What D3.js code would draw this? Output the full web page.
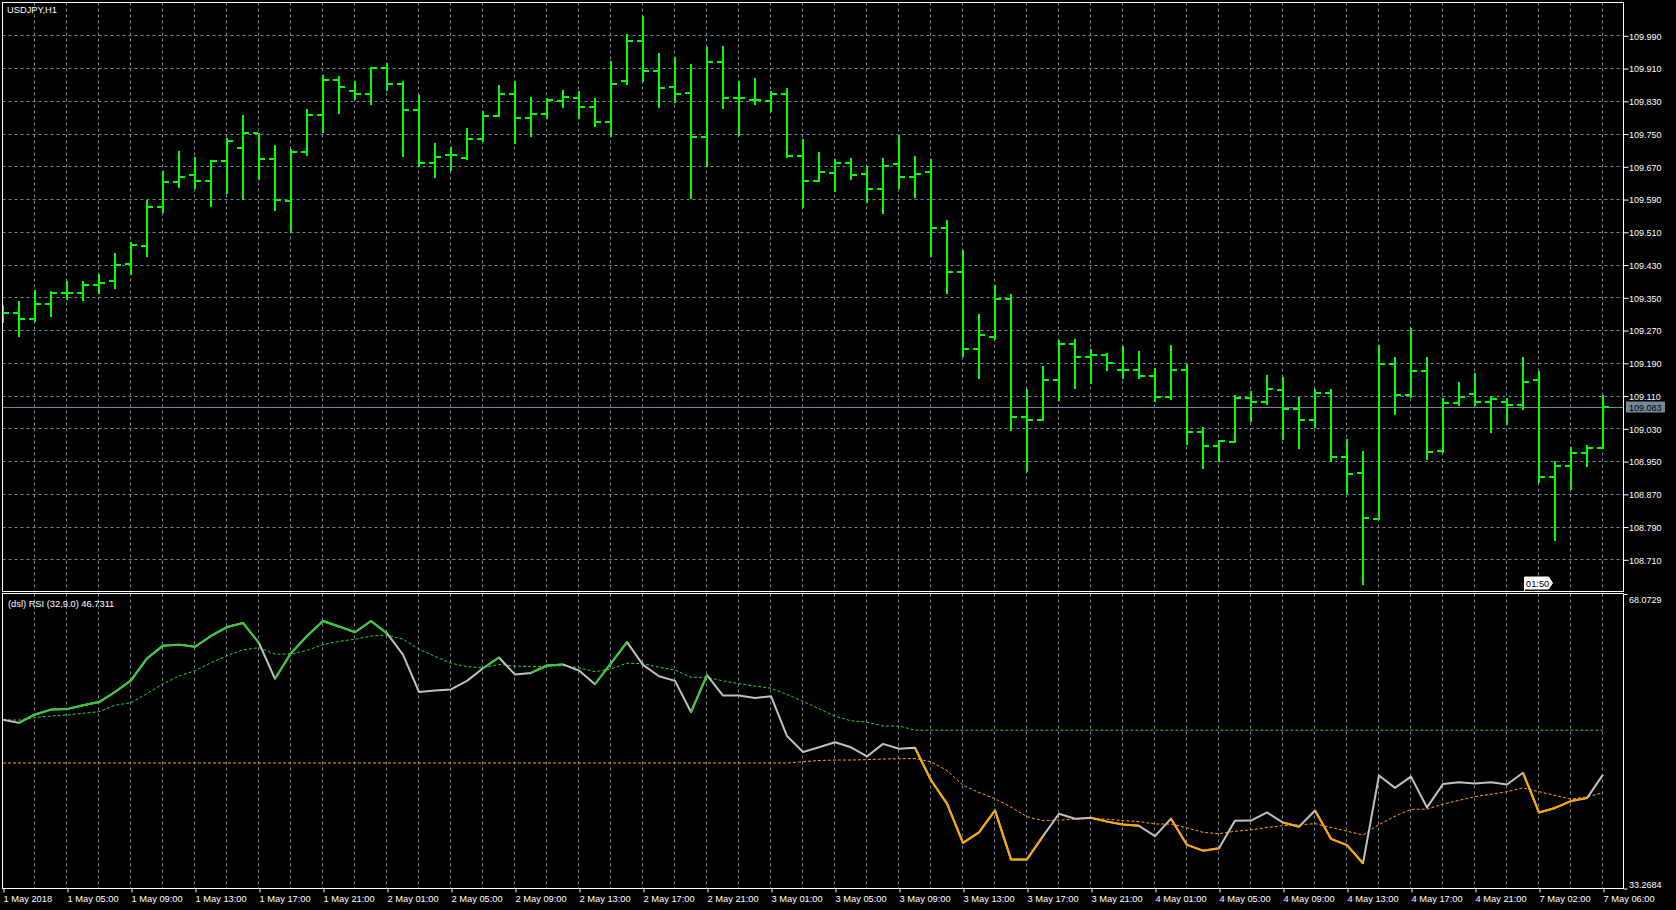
<!DOCTYPE html>
<html><head><meta charset="utf-8">
<script src="https://cdn.jsdelivr.net/npm/d3@7"></script>
<style>
html,body{margin:0;padding:0;background:#000;overflow:hidden;}
svg{display:block;}
text{font-family:"Liberation Sans",Arial,sans-serif;font-size:9.3px;fill:#fff;}
</style></head><body>
<svg id="c" width="1676" height="910"></svg>
<script>
// ---------------- data ----------------
const symbolTitle = "USDJPY,H1";
const rsiTitle = "(dsl) RSI (32,9.0) 46.7311";
const timerLabel = "01:50";
const currentPrice = 109.083;

const timeLabels = ["1 May 2018","1 May 05:00","1 May 09:00","1 May 13:00","1 May 17:00","1 May 21:00",
  "2 May 01:00","2 May 05:00","2 May 09:00","2 May 13:00","2 May 17:00","2 May 21:00",
  "3 May 01:00","3 May 05:00","3 May 09:00","3 May 13:00","3 May 17:00","3 May 21:00",
  "4 May 01:00","4 May 05:00","4 May 09:00","4 May 13:00","4 May 17:00","4 May 21:00",
  "7 May 02:00","7 May 06:00"];
const timeLabelBars = [0,4,8,12,16,20,24,28,32,36,40,44,48,52,56,60,64,68,72,76,80,84,88,92,96,100];

const priceTicks = [108.710,108.790,108.870,108.950,109.030,109.110,109.190,109.270,109.350,109.430,
  109.510,109.590,109.670,109.750,109.830,109.910,109.990];
const rsiTicks = [33.2684, 68.0729];

const opens = [109.320,109.312,109.296,109.334,109.360,109.360,109.379,109.389,109.432,109.475,
  109.571,109.632,109.648,109.635,109.683,109.714,109.751,109.689,109.585,109.704,
  109.795,109.882,109.853,109.846,109.911,109.872,109.807,109.679,109.697,109.690,
  109.736,109.794,109.846,109.789,109.797,109.829,109.836,109.814,109.779,109.878,
  109.976,109.903,109.864,109.849,109.742,109.924,109.836,109.833,109.829,109.846,
  109.695,109.635,109.653,109.679,109.651,109.615,109.675,109.645,109.656,109.520,
  109.413,109.223,109.254,109.346,109.057,109.051,109.148,109.236,109.203,109.209,
  109.172,109.173,109.157,109.107,109.173,109.021,108.987,108.997,109.103,109.095,
  109.124,109.076,109.051,109.116,108.959,108.921,108.808,109.186,109.112,109.169,
  108.974,109.093,109.115,109.095,109.095,109.086,109.148,108.911,108.938,108.970,
  108.983];
const highs = [109.330,109.340,109.368,109.365,109.391,109.391,109.408,109.458,109.484,109.588,
  109.659,109.708,109.692,109.685,109.740,109.796,109.751,109.723,109.713,109.809,
  109.892,109.890,109.879,109.912,109.922,109.878,109.844,109.726,109.718,109.763,
  109.804,109.868,109.879,109.840,109.838,109.857,109.854,109.838,109.928,109.993,
  110.037,109.947,109.936,109.921,109.962,109.965,109.878,109.885,109.854,109.861,
  109.736,109.704,109.688,109.690,109.670,109.690,109.747,109.695,109.688,109.538,
  109.465,109.308,109.381,109.359,109.127,109.181,109.245,109.249,109.224,109.215,
  109.231,109.219,109.177,109.234,109.187,109.033,109.002,109.112,109.122,109.159,
  109.155,109.106,109.125,109.127,109.003,108.974,109.233,109.204,109.275,109.204,
  109.104,109.143,109.164,109.109,109.104,109.204,109.169,108.950,108.985,108.989,
  109.112];
const lows = [109.290,109.255,109.291,109.304,109.347,109.344,109.360,109.372,109.406,109.452,
  109.559,109.619,109.616,109.573,109.606,109.590,109.640,109.564,109.510,109.698,
  109.753,109.801,109.835,109.823,109.856,109.695,109.670,109.645,109.660,109.688,
  109.733,109.792,109.726,109.743,109.789,109.815,109.788,109.768,109.743,109.871,
  109.879,109.815,109.826,109.593,109.670,109.813,109.747,109.822,109.804,109.692,
  109.570,109.635,109.610,109.639,109.582,109.555,109.617,109.595,109.452,109.360,
  109.206,109.154,109.249,109.027,108.925,109.051,109.100,109.128,109.140,109.172,
  109.154,109.154,109.097,109.101,108.991,108.933,108.951,108.997,109.049,109.089,
  109.005,108.983,109.033,108.950,108.872,108.649,108.808,109.066,109.107,108.955,
  108.972,109.086,109.086,109.020,109.040,109.078,108.899,108.756,108.881,108.937,
  108.983];
const closes = [109.312,109.296,109.334,109.360,109.360,109.379,109.386,109.429,109.477,109.571,
  109.632,109.644,109.635,109.683,109.731,109.751,109.689,109.588,109.706,109.795,
  109.882,109.864,109.846,109.911,109.872,109.807,109.679,109.693,109.697,109.736,
  109.794,109.846,109.789,109.797,109.831,109.839,109.814,109.779,109.872,109.976,
  109.903,109.861,109.846,109.742,109.924,109.836,109.836,109.833,109.846,109.695,
  109.635,109.657,109.677,109.649,109.615,109.670,109.645,109.651,109.520,109.413,
  109.223,109.257,109.346,109.057,109.051,109.148,109.237,109.203,109.209,109.189,
  109.172,109.157,109.107,109.173,109.021,108.987,108.999,109.103,109.094,109.125,
  109.078,109.051,109.116,108.961,108.918,108.810,109.186,109.112,109.169,108.972,
  109.093,109.107,109.095,109.102,109.088,109.142,108.911,108.939,108.970,108.983,
  109.083];

const rsiValues = [53.22,52.84,53.84,54.41,54.47,54.92,55.30,56.49,57.87,60.46,
  61.97,62.09,61.84,63.11,64.17,64.65,62.28,58.05,61.09,63.11,
  64.88,64.24,63.55,64.88,63.42,60.90,56.49,56.67,56.80,57.81,
  59.30,60.57,58.55,58.75,59.62,59.75,59.02,57.41,59.89,62.38,
  59.70,58.35,57.81,54.12,58.48,56.07,56.07,55.79,55.99,51.29,
  49.41,49.96,50.55,49.96,48.87,50.36,49.78,49.90,46.06,43.30,
  38.66,39.91,42.50,36.71,36.71,39.46,42.10,41.52,41.62,41.17,
  40.83,40.67,39.46,41.52,38.42,37.74,38.02,41.29,41.30,42.26,
  41.06,40.57,42.49,39.14,38.39,36.25,46.62,45.16,46.49,42.85,
  45.61,45.82,45.69,45.82,45.56,46.94,42.26,42.79,43.60,43.95,
  46.73];
// colour state of each RSI point (1 = above upper level, -1 = below lower level, 0 = neutral)
const rsiTrend = [0,0,1,1,1,1,1,1,1,1,
  1,1,1,1,1,1,1,0,1,1,
  1,1,1,1,1,0,0,0,0,0,
  0,1,0,0,1,1,0,0,1,1,
  0,0,0,0,1,0,0,0,0,0,
  0,0,0,0,0,0,0,0,-1,-1,
  -1,-1,-1,-1,-1,-1,0,0,0,-1,
  -1,-1,0,0,-1,-1,-1,0,0,0,
  0,-1,0,-1,-1,-1,0,0,0,0,
  0,0,0,0,0,0,-1,-1,-1,-1,
  0];
const dslUp = [53.22,53.16,53.47,53.65,53.78,53.97,54.16,54.92,55.23,56.30,
  57.44,58.38,59.01,59.95,60.78,61.47,61.73,60.97,60.97,61.41,
  62.09,62.47,62.73,63.11,63.23,62.73,61.57,60.70,59.89,59.49,
  59.35,59.75,59.55,59.49,59.55,59.62,59.35,58.89,59.22,59.89,
  59.84,59.42,59.09,58.22,58.22,57.81,57.47,57.20,56.94,56.20,
  55.39,54.52,53.64,53.08,52.93,52.47,52.47,51.98,51.98,51.98,
  51.98,51.98,51.98,51.98,51.98,51.98,51.98,51.98,51.98,51.98,
  51.98,51.98,51.98,51.98,51.98,51.98,51.98,51.98,51.98,51.98,
  51.98,51.98,51.98,51.98,51.98,51.98,51.98,51.98,51.98,51.98,
  51.98,51.98,51.98,51.98,51.98,51.98,51.98,51.98,51.98,51.98,
  51.98];
const dslDown = [48.10,48.10,48.10,48.10,48.10,48.10,48.10,48.10,48.10,48.10,
  48.10,48.10,48.10,48.10,48.10,48.10,48.10,48.10,48.10,48.10,
  48.10,48.10,48.10,48.10,48.10,48.10,48.10,48.10,48.10,48.10,
  48.10,48.10,48.10,48.10,48.10,48.10,48.10,48.10,48.10,48.10,
  48.10,48.10,48.10,48.10,48.10,48.10,48.10,48.10,48.10,48.10,
  48.25,48.40,48.45,48.45,48.50,48.57,48.60,48.63,48.25,47.20,
  45.48,44.61,43.87,42.90,41.75,41.29,41.35,41.46,41.55,41.46,
  41.29,41.17,40.89,40.89,40.43,39.91,39.74,40.03,40.20,40.48,
  40.70,40.80,40.93,40.48,40.04,39.59,40.83,41.81,42.62,42.65,
  43.24,43.69,44.13,44.40,44.71,45.16,44.71,44.27,43.82,44.10,
  44.58];

// ---------------- layout ----------------
const L = 2.5, R = 1623.5, mainT = 2.5, mainB = 591.5, rsiT = 593.5, rsiB = 888.5;
const GRID = "#778899", BAR = "#00ff00";
const nBars = closes.length;

const svg = d3.select("#c");
svg.append("rect").attr("width",1676).attr("height",910).attr("fill","#000");

const x = d3.scaleLinear().domain([0, nBars-1]).range([3, 1603]);
const py = d3.scaleLinear().domain([108.710, 109.990]).range([559.3, 35.3]);
const ry = d3.scaleLinear().domain([rsiTicks[0], rsiTicks[1]]).range([888.5, 594]);

const defs = svg.append("defs");
defs.append("clipPath").attr("id","clipMain").append("rect")
  .attr("x",L+0.5).attr("y",mainT+0.5).attr("width",R-L-1).attr("height",mainB-mainT-1);
defs.append("clipPath").attr("id","clipRsi").append("rect")
  .attr("x",L+0.5).attr("y",rsiT+0.5).attr("width",R-L-1).attr("height",rsiB-rsiT-1);

// ---------- grids ----------
const gridIdx = d3.range(0, nBars, 2);
const gMain = svg.append("g").attr("clip-path","url(#clipMain)");
gMain.selectAll("line.vg").data(gridIdx).join("line")
  .attr("x1",d=>Math.round(x(d))-0.5).attr("x2",d=>Math.round(x(d))-0.5)
  .attr("y1",mainT).attr("y2",mainB)
  .attr("stroke",GRID).attr("stroke-dasharray","3,3");
gMain.selectAll("line.hg").data(priceTicks).join("line")
  .attr("x1",L).attr("x2",R)
  .attr("y1",d=>Math.round(py(d))+0.5).attr("y2",d=>Math.round(py(d))+0.5)
  .attr("stroke",GRID).attr("stroke-dasharray","3,3");

const gRsi = svg.append("g").attr("clip-path","url(#clipRsi)");
gRsi.selectAll("line.vg").data(gridIdx).join("line")
  .attr("x1",d=>Math.round(x(d))-0.5).attr("x2",d=>Math.round(x(d))-0.5)
  .attr("y1",rsiT).attr("y2",rsiB)
  .attr("stroke",GRID).attr("stroke-dasharray","3,3");

// ---------- current price line ----------
gMain.append("line")
  .attr("x1",L).attr("x2",R)
  .attr("y1",Math.round(py(currentPrice))+0.5).attr("y2",Math.round(py(currentPrice))+0.5)
  .attr("stroke",GRID).attr("stroke-width",1);

// ---------- OHLC bars ----------
const bars = gMain.selectAll("g.bar").data(d3.range(nBars)).join("g").attr("fill",BAR);
bars.append("rect")
  .attr("x",i=>Math.round(x(i))-1).attr("width",2)
  .attr("y",i=>Math.round(py(highs[i])))
  .attr("height",i=>Math.max(2,Math.round(py(lows[i]))-Math.round(py(highs[i]))+1));
bars.append("rect")
  .attr("x",i=>Math.round(x(i))-6).attr("width",5)
  .attr("y",i=>Math.round(py(opens[i]))-1).attr("height",2);
bars.append("rect")
  .attr("x",i=>Math.round(x(i))+1).attr("width",5)
  .attr("y",i=>Math.round(py(closes[i]))-1).attr("height",2);

// ---------- timer label ----------
{
  const tx = x(95.05) , ty = 577;
  svg.append("line").attr("x1",Math.round(tx)+0.5).attr("x2",Math.round(tx)+0.5)
    .attr("y1",ty+10).attr("y2",mainB).attr("stroke","#fff");
  const bx = Math.round(tx)+0.5;
  svg.append("path")
    .attr("d",`M${bx},${ty} H${bx+24} L${bx+28},${ty+6} L${bx+24},${ty+12} H${bx} Z`)
    .attr("fill","#fff").attr("stroke","#fff");
  svg.append("text").attr("x",bx+1.5).attr("y",ty+9.5).style("fill","#000").text(timerLabel);
}

// ---------- RSI ----------
const line = d3.line().x(d=>x(d.i)).y(d=>ry(d.v));
const upPts = dslUp.map((v,i)=>({i,v}));
const dnPts = dslDown.map((v,i)=>({i,v}));
gRsi.append("path").attr("d",line(upPts)).attr("fill","none")
  .attr("stroke","#32cd32").attr("stroke-width",1).attr("stroke-dasharray","3,2");
gRsi.append("path").attr("d",line(dnPts)).attr("fill","none")
  .attr("stroke","#ffa500").attr("stroke-width",1).attr("stroke-dasharray","3,2");

const rsiPts = rsiValues.map((v,i)=>({i,v}));
gRsi.append("path").attr("d",line(rsiPts)).attr("fill","none")
  .attr("stroke","#c0c0c0").attr("stroke-width",2).attr("stroke-linejoin","round");

function runs(s){
  const out=[]; let cur=null;
  for(let i=1;i<nBars;i++){
    if(rsiTrend[i]===s){
      if(cur && cur[cur.length-1].i===i-1){ cur.push(rsiPts[i]); }
      else { cur=[rsiPts[i-1],rsiPts[i]]; out.push(cur); }
    }
  }
  return out;
}
gRsi.selectAll("path.up").data(runs(1)).join("path").attr("d",line).attr("fill","none")
  .attr("stroke","#32cd32").attr("stroke-width",2).attr("stroke-linejoin","round");
gRsi.selectAll("path.dn").data(runs(-1)).join("path").attr("d",line).attr("fill","none")
  .attr("stroke","#ffa500").attr("stroke-width",2).attr("stroke-linejoin","round");

// ---------- frames ----------
svg.append("rect").attr("x",L).attr("y",mainT).attr("width",R-L).attr("height",mainB-mainT)
  .attr("fill","none").attr("stroke","#fff");
svg.append("rect").attr("x",L).attr("y",rsiT).attr("width",R-L).attr("height",rsiB-rsiT)
  .attr("fill","none").attr("stroke","#fff");

// ---------- axes ----------
const pAxis = svg.append("g").attr("transform",`translate(${R},0.5)`)
  .call(d3.axisRight(py).tickValues(priceTicks).tickSize(5).tickPadding(0.5).tickFormat(d3.format(".3f")));
pAxis.select(".domain").remove();
pAxis.selectAll("line").attr("stroke","#fff");
pAxis.selectAll("text").attr("fill","#fff").attr("dy","0.36em").style("font-size","9px");

// current price box
{
  const yy = Math.round(py(currentPrice));
  svg.append("rect").attr("x",1626).attr("y",yy-5.5).attr("width",39).attr("height",11).attr("fill",GRID);
  svg.append("text").attr("x",1629).attr("y",yy+3.5).style("fill","#000").style("font-size","9px")
    .text(d3.format(".3f")(currentPrice));
}

const rAxis = svg.append("g").attr("transform",`translate(${R},0)`)
  .call(d3.axisRight(ry).tickValues(rsiTicks).tickSize(4).tickPadding(1.5).tickFormat(d3.format(".4f")));
rAxis.select(".domain").remove();
rAxis.selectAll("line").attr("stroke","#fff");
rAxis.selectAll("text").attr("fill","#fff").style("font-size","9px")
  .attr("dy",(d)=> d===rsiTicks[1] ? "0.95em" : "-0.12em");

const tAxis = svg.append("g").attr("transform",`translate(0.5,${rsiB})`)
  .call(d3.axisBottom(x).tickValues(timeLabelBars).tickSize(4).tickPadding(3)
    .tickFormat((d,i)=>timeLabels[i]));
tAxis.select(".domain").remove();
tAxis.selectAll("line").attr("stroke","#fff");
tAxis.selectAll("text").attr("fill","#fff").attr("text-anchor","start").attr("dx","-0.5");

// ---------- titles ----------
svg.append("text").attr("x",7).attr("y",12.7).text(symbolTitle);
svg.append("text").attr("x",8).attr("y",606.5).text(rsiTitle);
</script>
</body></html>
